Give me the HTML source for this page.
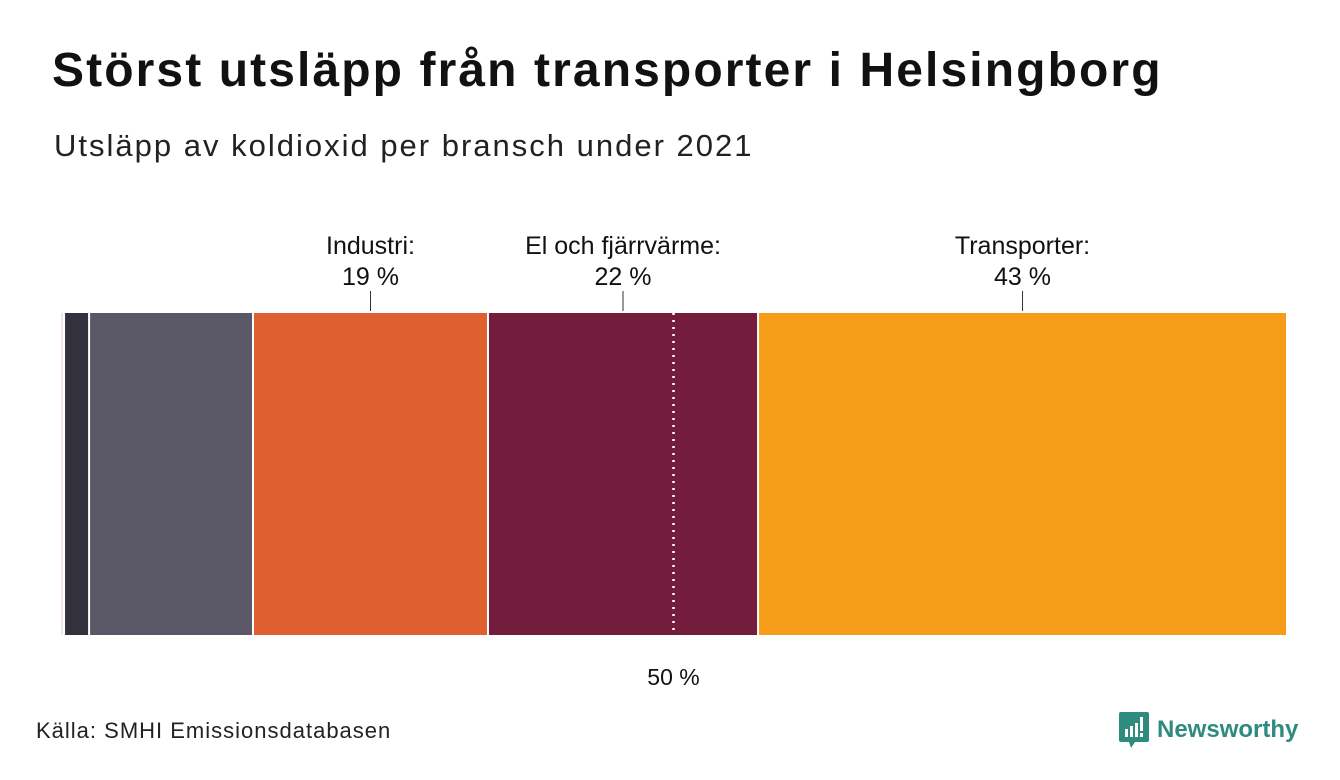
<!DOCTYPE html>
<html><head><meta charset="utf-8"><style>
body{margin:0;background:#fff;width:1340px;height:780px;overflow:hidden;font-family:"Liberation Sans",sans-serif}
h1{position:absolute;left:52px;top:43px;margin:0;font-size:48px;font-weight:bold;color:#111;letter-spacing:2.1px}
.sub{position:absolute;left:54px;top:128px;font-size:31px;color:#222;letter-spacing:2px}
.src{position:absolute;left:36px;top:718px;font-size:22px;color:#222;letter-spacing:1px}
.logo{position:absolute;left:1119px;top:712px;display:flex;align-items:center}
.logo span{font-size:24px;font-weight:bold;color:#2e8b7e;margin-left:8px}
</style></head><body>
<h1>Störst utsläpp från transporter i Helsingborg</h1>
<div class="sub">Utsläpp av koldioxid per bransch under 2021</div>
<svg id="chart" width="1340" height="780" style="position:absolute;left:0;top:0"></svg>
<div class="src">Källa: SMHI Emissionsdatabasen</div>
<div class="logo">
<svg width="30" height="36" viewBox="0 0 30 36"><path d="M2 0h26a2 2 0 0 1 2 2v26a2 2 0 0 1-2 2H16l-4 6-2-6H2a2 2 0 0 1-2-2V2a2 2 0 0 1 2-2z" fill="#2e8b7e"/><rect x="6" y="17" width="3" height="8" fill="#fff"/><rect x="11" y="14" width="3" height="11" fill="#fff"/><rect x="16" y="11" width="3" height="14" fill="#fff"/><rect x="21" y="5" width="3" height="14" fill="#fff"/><rect x="21" y="21" width="3" height="4" fill="#fff"/></svg>
<span>Newsworthy</span></div>
<script>
const categories=["Övrigt","Jordbruk","Arbetsmaskiner","Industri","El och fjärrvärme","Transporter"];
const values=[0.33,2.04,13.36,19.15,22.01,43.11];
const labels=["","","","Industri:\n19 %","El och fjärrvärme:\n22 %","Transporter:\n43 %"];
const colors=["#f3e4ea","#33313d","#5a5866","#e05f2f","#731c3b","#f59c19"];
const markerValue=50;
const x0=60,x1=1287,yTop=313,yBot=635;
const total=values.reduce((a,b)=>a+b,0);
const xs=v=>x0+(v/total)*(x1-x0);
const svg=document.getElementById('chart');
const NS="http://www.w3.org/2000/svg";
function mk(t,a){const e=document.createElementNS(NS,t);for(const k in a)e.setAttribute(k,a[k]);svg.appendChild(e);return e;}
let cum=0;
values.forEach((v,i)=>{
  const a=xs(cum),b=xs(cum+v);cum+=v;
  const r=mk('rect',{x:a+1,y:yTop,width:Math.max(b-a-2,1),height:yBot-yTop,fill:colors[i]});
  
  
  if(labels[i]){
    const m=(a+b)/2;
    const l=mk('line',{x1:m,x2:m,y1:291,y2:311,stroke:'#333','stroke-width':1});
    
    
    const lines=labels[i].split('\n');
    lines.forEach((s,j)=>{
      const t=mk('text',{x:m,y:254+j*31,'text-anchor':'middle','font-size':25,fill:'#111','font-family':'Liberation Sans, sans-serif'});
      t.textContent=s;
      
      
    });
  }
});
const mx=xs(markerValue*total/100);
const d=mk('line',{x1:mx,x2:mx,y1:yTop,y2:yBot,stroke:'#fff','stroke-width':2.5,'stroke-dasharray':'2 5'});


const mt=mk('text',{x:mx,y:685,'text-anchor':'middle','font-size':23,fill:'#111','font-family':'Liberation Sans, sans-serif'});
mt.textContent=markerValue+' %';


</script>
</body></html>
